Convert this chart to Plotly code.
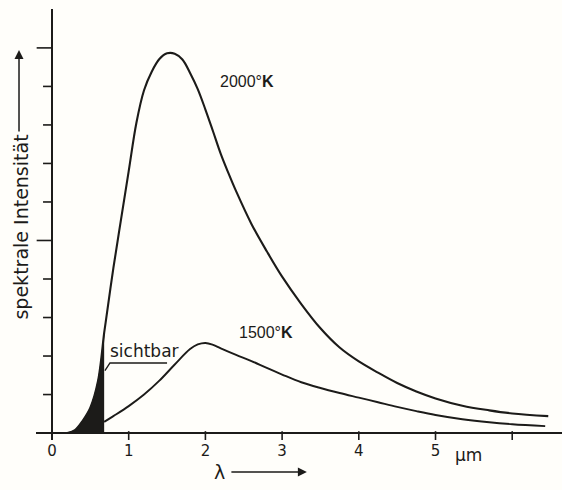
import plotly.graph_objects as go

# ---- data (x in µm, y in relative units, peak ~10) ----
T2000_X = [0.20, 0.30, 0.40, 0.50, 0.60, 0.68, 0.70, 0.80, 0.90, 1.00, 1.10, 1.20, 1.30,
           1.40, 1.50, 1.60, 1.70, 1.80, 1.90, 2.00, 2.10, 2.20, 2.30, 2.40, 2.60, 2.80,
           3.00, 3.25, 3.50, 3.75, 4.00, 4.25, 4.50, 4.75, 5.00, 5.35, 5.70, 6.00, 6.47]
T2000_Y = [0.00, 0.08, 0.32, 0.66, 1.35, 2.60, 2.88, 4.28, 5.55, 6.80, 8.05, 8.90, 9.38,
           9.71, 9.86, 9.85, 9.70, 9.35, 8.93, 8.40, 7.83, 7.25, 6.75, 6.28, 5.43, 4.72,
           4.06, 3.35, 2.72, 2.22, 1.86, 1.57, 1.30, 1.08, 0.90, 0.71, 0.59, 0.51, 0.44]

T1500_X = [0.68, 0.80, 1.00, 1.20, 1.40, 1.60, 1.80, 1.90, 2.00, 2.10, 2.20, 2.40, 2.60,
           2.80, 3.00, 3.25, 3.50, 3.75, 4.00, 4.25, 4.50, 4.75, 5.00, 5.35, 5.70, 6.00,
           6.43]
T1500_Y = [0.29, 0.44, 0.70, 1.00, 1.36, 1.78, 2.18, 2.30, 2.34, 2.29, 2.20, 2.03, 1.87,
           1.69, 1.52, 1.32, 1.17, 1.04, 0.92, 0.80, 0.68, 0.57, 0.47, 0.36, 0.28, 0.23,
           0.18]

VISIBLE_EDGE = 0.68          # µm, right edge of the visible band

X_TICKS = [0, 1, 2, 3, 4, 5, 6]
X_TICKTEXT = ["0", "1", "2", "3", "4", "5", ""]
Y_MINOR = [1, 2, 3, 4, 6, 7, 8, 9]
Y_MAJOR = [5, 10]

INK = "#1c1b19"
BG = "#fffefa"
FONT = "DejaVu Sans"
NARROW = "Liberation Sans Narrow, Liberation Sans, Arial, sans-serif"
SMOOTH = 1.0

fig = go.Figure()

# black "sichtbar" area under the 2000 K curve
vis_x = [x for x in T2000_X if x <= VISIBLE_EDGE]
vis_y = [y for x, y in zip(T2000_X, T2000_Y) if x <= VISIBLE_EDGE]
fig.add_trace(go.Scatter(x=vis_x, y=vis_y, mode="lines", fill="tozeroy",
                         fillcolor=INK, line=dict(color=INK, width=1, shape="spline",
                                                  smoothing=SMOOTH),
                         hoverinfo="skip", showlegend=False))

fig.add_trace(go.Scatter(x=T2000_X, y=T2000_Y, mode="lines",
                         line=dict(color=INK, width=2.1, shape="spline", smoothing=SMOOTH),
                         name="2000 K", showlegend=False))
fig.add_trace(go.Scatter(x=T1500_X, y=T1500_Y, mode="lines",
                         line=dict(color=INK, width=1.9, shape="spline", smoothing=SMOOTH),
                         name="1500 K", showlegend=False))

shapes = []
for v in Y_MINOR:
    shapes.append(dict(type="line", xref="x", yref="y", x0=-0.117, x1=0, y0=v, y1=v,
                       line=dict(color=INK, width=1.6)))
for v in Y_MAJOR:
    shapes.append(dict(type="line", xref="x", yref="y", x0=-0.2, x1=0, y0=v, y1=v,
                       line=dict(color=INK, width=1.6)))
for v in X_TICKS[1:]:
    shapes.append(dict(type="line", xref="x", yref="y", x0=v, x1=v, y0=0.05, y1=-0.2,
                       line=dict(color=INK, width=1.6)))
# leader line for "sichtbar"
shapes.append(dict(type="path", xref="x", yref="y",
                   path="M 1.50 1.82 L 0.756 1.82 L 0.69 1.62",
                   line=dict(color=INK, width=1.4)))

annotations = [
    dict(x=2.16, y=9.14, xref="x", yref="y", xanchor="left", yanchor="middle",
         text="2000°<b>K</b>", showarrow=False, font=dict(family=NARROW, size=16, color=INK)),
    dict(x=2.41, y=2.6, xref="x", yref="y", xanchor="left", yanchor="middle",
         text="1500°<b>K</b>", showarrow=False, font=dict(family=NARROW, size=16, color=INK)),
    dict(x=0.73, y=2.12, xref="x", yref="y", xanchor="left", yanchor="middle",
         text="sichtbar", showarrow=False, font=dict(family=FONT, size=17, color=INK)),
    dict(x=0.793, y=-0.035, xref="paper", yref="paper", xanchor="left", yanchor="middle",
         text="µm", showarrow=False, font=dict(family=FONT, size=17, color=INK)),
    # y-axis title with arrow
    dict(x=-0.0285, y=0.493, xref="paper", yref="paper", xanchor="center", yanchor="middle",
         text="spektrale Intensität", textangle=-90, showarrow=False,
         font=dict(family=FONT, size=19, color=INK)),
    dict(x=-0.0323, y=0.905, xref="paper", yref="paper", text="", showarrow=True,
         ax=0, ay=83, arrowhead=2, arrowsize=1.2, arrowwidth=1.5, arrowcolor=INK),
    # lambda with arrow
    dict(x=0.3498, y=-0.074, xref="paper", yref="paper", xanchor="center", yanchor="middle",
         text="λ", showarrow=False, font=dict(family=FONT, size=19, color=INK)),
    dict(x=0.515, y=-0.074, xref="paper", yref="paper", text="", showarrow=True,
         ax=-77, ay=0, arrowhead=2, arrowsize=1.2, arrowwidth=1.5, arrowcolor=INK),
]

fig.update_layout(
    width=562, height=490, autosize=False,
    margin=dict(l=36, r=0, t=9, b=50, autoexpand=False),
    paper_bgcolor=BG, plot_bgcolor=BG,
    shapes=shapes, annotations=annotations,
    xaxis=dict(range=[-0.2086, 6.649], showgrid=False, showline=False,
               zeroline=True, zerolinecolor=INK, zerolinewidth=2,
               tickvals=X_TICKS, ticktext=X_TICKTEXT, ticks="",
               tickfont=dict(family=FONT, size=15, color=INK)),
    yaxis=dict(range=[-0.18, 11.01], showgrid=False, showline=False,
               zeroline=True, zerolinecolor=INK, zerolinewidth=2,
               showticklabels=False, ticks=""),
)

fig.write_html("out.html", config={"displayModeBar": False},
               post_script="document.body.style.margin='0px';"
                           "document.body.style.background='#fffefa';")
